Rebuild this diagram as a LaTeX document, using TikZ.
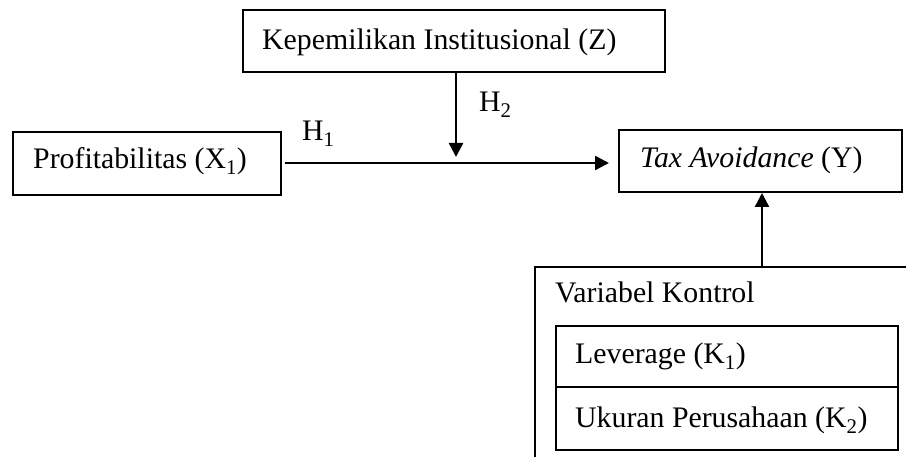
\documentclass[tikz,border=0pt]{standalone}
\usepackage{fontspec}
\setmainfont{Liberation Serif}
\usetikzlibrary{arrows.meta}
\begin{document}
\begin{tikzpicture}[x=1pt,y=-1pt,
  box/.style={draw, line width=2pt, rectangle, inner sep=0pt},
  txt/.style={anchor=base west, inner sep=0pt, font=\fontsize{29.8}{34}\selectfont},
  arr/.style={line width=2.4pt, -{Triangle[length=14pt,width=14pt]}}]
\useasboundingbox (0,0) rectangle (906,457);
\clip (0,0) rectangle (906,457);
% boxes
\node[box, minimum width=422pt, minimum height=62pt] (z) at (454,41) {};
\node[box, minimum width=268pt, minimum height=63pt] (x) at (147,163.5) {};
\node[box, minimum width=283pt, minimum height=62pt] (y) at (760.5,161) {};
\node[box, minimum width=400pt, minimum height=240pt, anchor=north west] (ctrl) at (534,266) {};
\node[box, minimum width=342pt, minimum height=61pt, anchor=north west] (k1) at (555,325) {};
\node[box, minimum width=342pt, minimum height=63pt, anchor=north west] (k2) at (555,386) {};
% texts
\node[txt] (zt) at (262,50) {Kepemilikan Institusional (Z)};
\node[txt] (xt) at (33,169) {Profitabilitas (X\textsubscript{1})};
\node[txt] (yt) at (640,168) {\textit{Tax Avoidance} (Y)};
\node[txt] (ct) at (555,303) {Variabel Kontrol};
\node[txt] (k1t) at (575,364) {Leverage (K\textsubscript{1})};
\node[txt] (k2t) at (575,428) {Ukuran Perusahaan (K\textsubscript{2})};
\node[txt] (h1) at (302,141) {H\textsubscript{1}};
\node[txt] (h2) at (479,112) {H\textsubscript{2}};
% connectors
\coordinate (xs) at (285,163);
\coordinate (ye) at ([xshift=-9pt]y.west |- xs);
\draw[arr] (xs) -- (ye);
\coordinate (zs) at (z.south -| 456,0);
\coordinate (ze) at (456,157);
\draw[arr] (zs) -- (ze);
\coordinate (cs) at (762,266);
\draw[arr] (cs) -- (y.south -| cs);
\end{tikzpicture}
\end{document}
